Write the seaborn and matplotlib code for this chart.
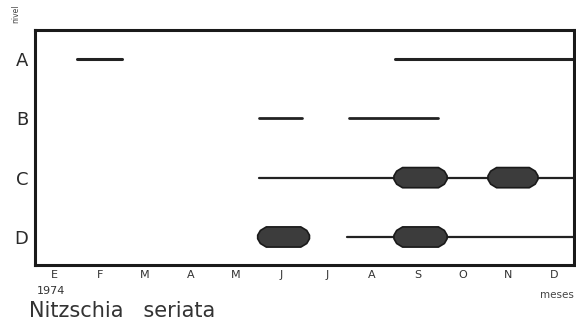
import numpy as np
import pandas as pd
import matplotlib
matplotlib.use('Agg')
import matplotlib.pyplot as plt
import seaborn as sns
from matplotlib.patches import Polygon

# niveles y meses
niveles = ['A', 'B', 'C', 'D']
meses = ['E', 'F', 'M', 'A', 'M', 'J', 'J', 'A', 'S', 'O', 'N', 'D']

# segmentos de presencia (en índice de mes)
seg_nivel = ['A', 'A', 'B', 'B', 'C', 'D']
seg_ini = [0.5, 7.5, 4.5, 6.5, 4.5, 6.45]
seg_fin = [1.5, 11.6, 5.45, 8.45, 11.6, 11.6]

# bloques de abundancia
blq_nivel = ['C', 'C', 'D', 'D']
blq_ini = [7.48, 9.55, 4.48, 7.48]
blq_fin = [8.65, 10.65, 5.62, 8.65]

sns.set_style('white')
plt.rcParams['font.family'] = ['DejaVu Sans']

fig = plt.figure(figsize=(5.76, 3.25), dpi=100)
ax = fig.add_axes([0.061, 0.185, 0.936, 0.723])

ypos = {n: i for i, n in enumerate(niveles)}

# líneas
rows = []
for k, (n, a, b) in enumerate(zip(seg_nivel, seg_ini, seg_fin)):
    rows.append({'seg': k, 'mes': a, 'y': ypos[n], 'nivel': n})
    rows.append({'seg': k, 'mes': b, 'y': ypos[n], 'nivel': n})
df = pd.DataFrame(rows)
for n, lw in [('A', 2.2), ('B', 2.0), ('C', 1.6), ('D', 1.6)]:
    sub = df[df['nivel'] == n]
    sns.lineplot(data=sub, x='mes', y='y', units='seg', estimator=None,
                 color='#222222', lw=lw, ax=ax, legend=False)

# bloques (formas alargadas con extremos redondeados)
h = 0.17
for n, a, b in zip(blq_nivel, blq_ini, blq_fin):
    y = ypos[n]
    top = [(a, y - 0.03), (a + 0.06, y - 0.11), (a + 0.19, y - h),
           (b - 0.19, y - h), (b - 0.06, y - 0.11), (b, y - 0.03)]
    bot = [(px, 2 * y - py) for px, py in top[::-1]]
    ax.add_patch(Polygon(top + bot, closed=True, facecolor='#3c3c3c', edgecolor='#1a1a1a',
                         lw=1.2, joinstyle='round', zorder=3))

ax.set_xlim(-0.42, 11.45)
ax.set_ylim(3.47, -0.49)
ax.set_xticks(range(12))
ax.set_xticklabels(meses, fontsize=8, color='#333333')
ax.set_yticks(range(4))
ax.set_yticklabels(niveles, fontsize=13, color='#2a2a2a')
ax.tick_params(axis='x', direction='inout', length=5, width=1, pad=1, color='#222222')
ax.tick_params(axis='y', direction='inout', length=6, width=1, pad=2, color='#222222')
ax.set_xlabel('')
ax.set_ylabel('')
for s in ax.spines.values():
    s.set_color('#1a1a1a')
    s.set_linewidth(2.2)

fig.text(0.028, 0.93, 'nivel', rotation=90, fontsize=5.5, color='#444444', ha='center', va='bottom')
fig.text(0.089, 0.104, '1974', fontsize=8, color='#333333', ha='center', va='center')
fig.text(0.997, 0.092, 'meses', fontsize=7.5, color='#444444', ha='right', va='center')
fig.text(0.05, 0.043, 'Nitzschia   seriata', fontsize=15, color='#333333', ha='left', va='center')

fig.savefig('out.png', dpi=100, facecolor='white')
